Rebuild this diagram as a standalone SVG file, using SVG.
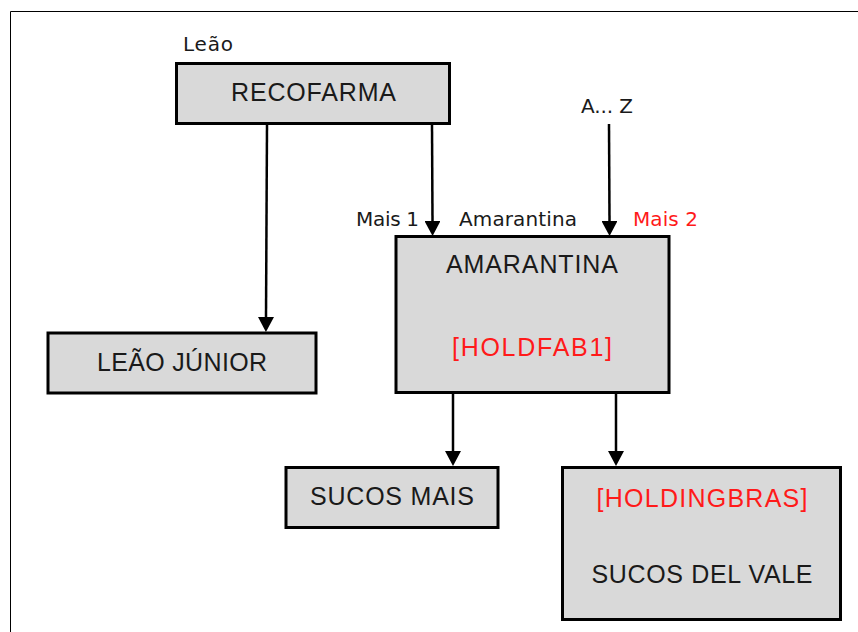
<svg xmlns="http://www.w3.org/2000/svg" width="858" height="632" viewBox="0 0 858 632">
  <defs>
    <marker id="arrow" markerUnits="userSpaceOnUse" markerWidth="15" markerHeight="16" viewBox="0 0 15 16" refX="0" refY="8" orient="auto">
      <path d="M0,0 L15,8 L0,16 z" fill="#000"/>
    </marker>
  </defs>
  <style>
    .box { fill: #d9d9d9; stroke: #000; stroke-width: 3; }
    .big { font-family: "Liberation Sans", Arial, sans-serif; font-size: 25px; fill: #1a1a1a; text-anchor: middle; }
    .small { font-family: "DejaVu Sans", Verdana, sans-serif; font-size: 20px; fill: #1a1a1a; }
    .red { fill: #ff1a1a; }
    .conn { stroke: #000; stroke-width: 2.5; fill: none; marker-end: url(#arrow); }
    .frame { stroke: #000; stroke-width: 1; fill: none; }
  </style>
  <rect width="858" height="632" fill="#fff"/>
  <path class="frame" d="M10.5,632 L10.5,11.5 L858,11.5"/>

  <g id="connectors">
    <line class="conn" x1="267" y1="125" x2="266" y2="317"/>
    <line class="conn" x1="432" y1="125" x2="432.5" y2="221"/>
    <line class="conn" x1="609" y1="124" x2="609.5" y2="221"/>
    <line class="conn" x1="453" y1="394" x2="453" y2="451"/>
    <line class="conn" x1="616" y1="394" x2="616" y2="451"/>
  </g>

  <g id="recofarma">
    <rect class="box" x="176.5" y="63.5" width="273" height="60"/>
    <text class="big" x="313.5" y="101" textLength="165" lengthAdjust="spacing">RECOFARMA</text>
  </g>
  <g id="label-leao">
    <text class="small" x="183" y="51" font-size="19" textLength="50" lengthAdjust="spacing">Leão</text>
  </g>
  <g id="label-az">
    <text class="small" x="581" y="113" textLength="52" lengthAdjust="spacing">A... Z</text>
  </g>
  <g id="label-mais1">
    <text class="small" x="356" y="226" textLength="63" lengthAdjust="spacing">Mais 1</text>
  </g>
  <g id="label-amarantina">
    <text class="small" x="459" y="226" textLength="118" lengthAdjust="spacing">Amarantina</text>
  </g>
  <g id="label-mais2">
    <text class="small red" x="633" y="226" textLength="65" lengthAdjust="spacing">Mais 2</text>
  </g>
  <g id="leao-junior">
    <rect class="box" x="48" y="333" width="268" height="60"/>
    <text class="big" x="182" y="371" textLength="170" lengthAdjust="spacing">LEÃO JÚNIOR</text>
  </g>
  <g id="amarantina">
    <rect class="box" x="396" y="236.5" width="273" height="156"/>
    <text class="big" x="532" y="273" textLength="172" lengthAdjust="spacing">AMARANTINA</text>
    <text class="big red" x="532" y="356" textLength="160" lengthAdjust="spacing">[HOLDFAB1]</text>
  </g>
  <g id="sucos-mais">
    <rect class="box" x="286" y="467.5" width="212" height="60"/>
    <text class="big" x="392" y="505" textLength="164" lengthAdjust="spacing">SUCOS MAIS</text>
  </g>
  <g id="sucos-del-vale">
    <rect class="box" x="562.5" y="467.5" width="278" height="152"/>
    <text class="big red" x="702" y="507" textLength="211" lengthAdjust="spacing">[HOLDINGBRAS]</text>
    <text class="big" x="702" y="583" textLength="221" lengthAdjust="spacing">SUCOS DEL VALE</text>
  </g>
</svg>
